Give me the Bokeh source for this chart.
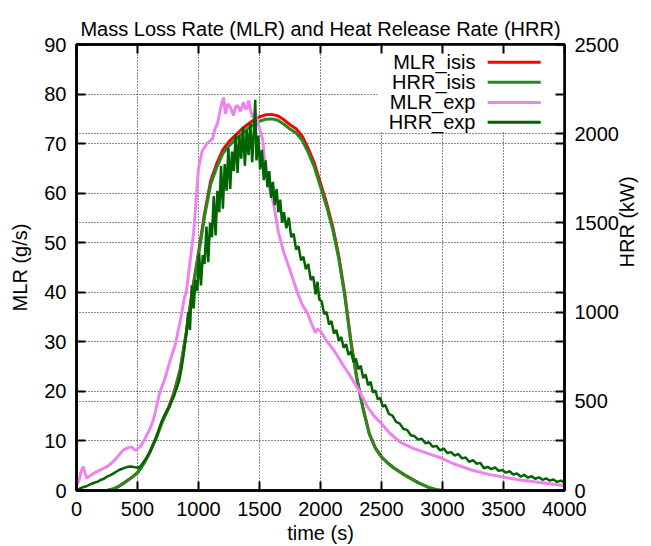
import math
from bokeh.plotting import figure
from bokeh.models import (Range1d, LinearAxis, FixedTicker, Grid, Label, BoxAnnotation)
from bokeh.embed import file_html
from bokeh.resources import INLINE

FONT = "Liberation Sans"

# ---------------- data ----------------
x_ticks = [0, 500, 1000, 1500, 2000, 2500, 3000, 3500, 4000]
mlr_ticks = [0, 10, 20, 30, 40, 50, 60, 70, 80, 90]
hrr_ticks = [0, 500, 1000, 1500, 2000, 2500]

t_isis = [200, 250, 300, 350, 400, 450, 500, 550, 600, 650, 700, 750, 800, 850, 900, 950,
          1000, 1050, 1100, 1150, 1200, 1250, 1300, 1350, 1400, 1450, 1500, 1550, 1600, 1650,
          1700, 1750, 1800, 1850, 1900, 1950, 2000, 2050, 2100, 2150, 2200, 2250, 2300, 2350,
          2400, 2450, 2500, 2550, 2600, 2700, 2800, 2900, 2950, 3000]
mlr_isis = [0, 0, 0.3, 0.9, 1.7, 2.6, 3.6, 5.4, 7.7, 10.5, 13.8, 16.5, 19.8, 24.5, 32, 40.5,
            48, 56, 62.5, 66, 68.8, 70.4, 71.6, 72.8, 73.8, 74.7, 75.4, 75.8, 75.9, 75.6,
            74.8, 73.8, 73, 71.5, 69, 66, 62, 58, 53.3, 47.3, 39.5, 30, 22.5, 16.5,
            11.5, 8.6, 6.8, 5.6, 4.6, 3.0, 1.6, 0.5, 0.15, 0]
hrr_isis = [0, 0, 8, 25, 47, 71, 99, 148, 211, 288, 379, 453, 544, 673, 878, 1112,
            1318, 1537, 1716, 1812, 1889, 1932, 1965, 1998, 2026, 2051, 2070, 2081, 2083, 2075,
            2053, 2026, 2004, 1963, 1894, 1812, 1702, 1592, 1463, 1298, 1084, 824, 618, 453,
            316, 236, 187, 154, 126, 82, 44, 14, 4, 0]

t_mlr_exp = [0, 20, 40, 55, 70, 85, 100, 130, 160, 200, 250, 300, 350, 385, 420, 450, 483,
             520, 550, 600, 631, 680, 721, 770, 810, 852, 885, 900, 930, 960, 985, 1000,
             1030, 1070, 1115, 1135, 1156, 1180, 1205, 1221, 1240, 1262, 1287, 1305, 1320,
             1345, 1369, 1385, 1402, 1410, 1430, 1443, 1467, 1500, 1525, 1549, 1580, 1615,
             1656, 1700, 1730, 1770, 1811, 1850, 1893, 1930, 1959, 1975, 2000, 2050, 2107,
             2180, 2246, 2320, 2385, 2440, 2492, 2570, 2656, 2760, 2877, 2984, 3090, 3230,
             3369, 3500, 3639, 3800, 3992]
mlr_exp = [1.0, 2.0, 4.0, 4.8, 3.5, 2.5, 2.8, 3.3, 3.7, 4.2, 4.8, 5.8, 7.2, 8.2, 8.6, 8.8, 8.1,
           8.8, 9.9, 12.3, 14.3, 19.5, 22.3, 26.4, 29.5, 34.4, 39, 40, 46, 52, 60, 65,
           68.5, 70, 71, 73, 74, 77, 79.3, 76, 78, 77.3, 75.7, 77.5, 77.7,
           76.5, 78.3, 77, 77.3, 78.7, 76.5, 75.3, 76.1, 73, 71, 65, 61, 58,
           52, 48, 45.9, 43, 39.9, 37.5, 35.8, 33.5, 31.8, 32.6, 32.2, 30.2, 28.4,
           25.5, 23, 20, 16.9, 15, 13.7, 11.5, 9.7, 8.5, 7.5, 6.6, 5.4, 4.2,
           3.3, 2.7, 2.1, 1.6, 1.0]

t_hrr_exp = [0, 25, 50, 75, 100, 125, 150, 175, 200, 225, 250, 275, 300, 325, 350, 375, 400,
             425, 450, 475, 500, 520, 540, 560, 580, 600, 620, 640, 660, 680, 700, 720, 740,
             760, 780, 800, 820, 840, 860, 880,
             900, 915, 930, 945, 960, 975, 990, 1005, 1020, 1035, 1050, 1065, 1080, 1095,
             1110, 1125, 1140, 1155, 1170, 1185, 1200, 1215, 1230, 1245, 1260, 1275, 1290,
             1305, 1320, 1335, 1350, 1365, 1380, 1395, 1410, 1425, 1440, 1455, 1465, 1475,
             1490, 1505, 1520, 1535, 1550, 1565, 1580, 1595, 1610, 1625, 1640, 1655, 1670,
             1685, 1700,
             1720, 1740, 1760, 1780, 1800, 1820, 1840, 1860, 1880, 1900, 1920, 1940, 1960,
             1975, 1990, 2010, 2030, 2050, 2070, 2090, 2110, 2130, 2150, 2170, 2190, 2210,
             2230, 2250, 2270, 2290, 2310, 2330, 2350, 2370, 2390, 2410, 2430, 2450, 2470,
             2490, 2510, 2530, 2560, 2590, 2620, 2650, 2680, 2710, 2740, 2770, 2800, 2830,
             2860, 2890, 2920, 2950, 2980, 3010, 3040, 3070, 3100, 3130, 3160, 3190, 3220,
             3250, 3280, 3310, 3340, 3370, 3400, 3430, 3460, 3490, 3520, 3550, 3580, 3610,
             3640, 3670, 3700, 3730, 3760, 3790, 3820, 3850, 3880, 3910, 3940, 3970, 4000]
hrr_exp = [0, 10, 18, 22, 30, 38, 45, 50, 60, 66, 78, 85, 95, 105, 115, 122, 128,
           133, 134, 131, 128, 132, 150, 170, 190, 215, 245, 275, 310, 350, 390, 420, 445,
           465, 500, 530, 570, 610, 680, 770,
           880, 1000, 900, 1150, 1020, 1180, 1120, 1330, 1150, 1320, 1270, 1480, 1280, 1500,
           1420, 1650, 1430, 1680, 1560, 1820, 1580, 1830, 1680, 1920, 1690, 1900, 1790,
           2000, 1780, 1990, 1860, 2040, 1820, 2020, 1880, 2060, 1840, 2030, 2190, 1850,
           1990, 1800, 1910, 1740, 1850, 1700, 1790, 1640, 1730, 1600, 1690, 1560, 1630,
           1500, 1560,
           1470, 1530, 1420, 1440, 1350, 1370, 1290, 1310, 1240, 1270, 1180, 1200, 1100,
           1170, 1070, 1060, 990, 1000, 930, 950, 880, 900, 840, 860, 800, 820,
           760, 780, 720, 740, 680, 700, 630, 650, 590, 610, 550, 560, 510,
           520, 470, 480, 430, 420, 385, 375, 345, 340, 310, 305, 285, 290,
           265, 270, 245, 250, 225, 235, 210, 215, 195, 205, 180, 185, 160,
           170, 150, 155, 125, 132, 120, 130, 110, 115, 100, 108, 90, 95,
           78, 88, 72, 80, 66, 74, 60, 68, 55, 62, 48, 55, 45]

labels = ["MLR_isis", "HRR_isis", "MLR_exp", "HRR_exp"]
colors = ["#ff0000", "#228b22", "#ee82ee", "#006400"]

# key layout (legend placement, in the MLR/time frame)
key_text_x = 3270
key_x0, key_x1 = 3370, 3805
key_y = [86.4, 82.4, 78.3, 74.3]

# ---------------- figure ----------------
p = figure(width=651, height=546, x_range=Range1d(0, 4000), y_range=Range1d(0, 90),
           output_backend="svg", toolbar_location=None,
           min_border_left=76, min_border_right=87, min_border_top=44, min_border_bottom=55)
p.extra_y_ranges = {"hrr": Range1d(0, 2500)}
p.background_fill_color = "white"
p.border_fill_color = "white"
p.outline_line_color = "black"
p.outline_line_width = 2.5

p.title.text = "Mass Loss Rate (MLR) and Heat Release Rate (HRR)"
p.title.align = "center"
p.title.text_font = FONT
p.title.text_font_size = "20px"
p.title.text_font_style = "normal"
p.title.text_color = "black"
p.title.standoff = 10

def style_axis(ax):
    ax.axis_line_color = "black"
    ax.axis_line_width = 2.5
    ax.major_tick_in = 9
    ax.major_tick_out = 0
    ax.major_tick_line_width = 2
    ax.minor_tick_in = 0
    ax.minor_tick_out = 0
    ax.major_label_text_font = FONT
    ax.major_label_text_font_size = "20px"
    ax.major_label_text_color = "black"
    ax.axis_label_text_font = FONT
    ax.axis_label_text_font_size = "20px"
    ax.axis_label_text_font_style = "normal"
    ax.axis_label_text_color = "black"

xa = p.xaxis[0]
xa.ticker = FixedTicker(ticks=x_ticks)
style_axis(xa)
xa.major_label_standoff = 11
xa.axis_label = "time (s)"
xa.axis_label_standoff = 3

ya = p.yaxis[0]
ya.ticker = FixedTicker(ticks=mlr_ticks)
style_axis(ya)
ya.major_label_standoff = 10
ya.axis_label = "MLR (g/s)"
ya.axis_label_standoff = 10

# mirrored top ticks (as minor ticks, so no labels)
top = LinearAxis(ticker=FixedTicker(ticks=[], minor_ticks=x_ticks))
style_axis(top)
top.minor_tick_in = 9
top.minor_tick_out = 0
top.minor_tick_line_width = 2
top.minor_tick_line_color = "black"
top.major_label_standoff = 0
p.add_layout(top, "above")

# right axis HRR, with mirrored MLR ticks as minor ticks
mirror = [m * 2500 / 90 for m in mlr_ticks]
ra = LinearAxis(y_range_name="hrr", ticker=FixedTicker(ticks=hrr_ticks, minor_ticks=mirror))
style_axis(ra)
ra.minor_tick_in = 9
ra.minor_tick_out = 0
ra.minor_tick_line_width = 2
ra.minor_tick_line_color = "black"
ra.major_label_standoff = 10
ra.axis_label = "HRR (kW)"
ra.axis_label_standoff = 5
ra.axis_label_orientation = math.pi / 2
p.add_layout(ra, "right")

# grids
for g in (p.xgrid[0], p.ygrid[0]):
    g.grid_line_color = "black"
    g.grid_line_dash = "1 2"
    g.grid_line_width = 1
    g.grid_line_alpha = 0.9
    g.level = "image"
p.xgrid[0].ticker = FixedTicker(ticks=x_ticks)
p.ygrid[0].ticker = FixedTicker(ticks=mlr_ticks)
g2 = Grid(dimension=1, ticker=FixedTicker(ticks=hrr_ticks), y_range_name="hrr",
          grid_line_color="black", grid_line_dash="1 2", grid_line_width=1,
          grid_line_alpha=0.9, level="image")
p.add_layout(g2)

# white key area over the grid
key_box = BoxAnnotation(left=2467, right=4000, bottom=72.3, top=90,
                        fill_color="white", fill_alpha=1.0, line_alpha=0, level="underlay")
p.add_layout(key_box)

# curves
p.line(t_isis, mlr_isis, line_color=colors[0], line_width=3)
p.line(t_isis, hrr_isis, line_color=colors[1], line_width=3, y_range_name="hrr")
p.line(t_mlr_exp, mlr_exp, line_color=colors[2], line_width=3)
p.line(t_hrr_exp, hrr_exp, line_color=colors[3], line_width=2.5, y_range_name="hrr")

# key: texts left of the line samples
p.segment(x0=[key_x0] * 4, x1=[key_x1] * 4, y0=key_y, y1=key_y,
          line_color=colors, line_width=3)
for lab, yy in zip(labels, key_y):
    p.add_layout(Label(x=key_text_x, y=yy, text=lab, text_align="right",
                       text_baseline="middle", text_font=FONT, text_font_size="20px",
                       text_color="black"))

open("out.html", "w").write(file_html(p, INLINE))
